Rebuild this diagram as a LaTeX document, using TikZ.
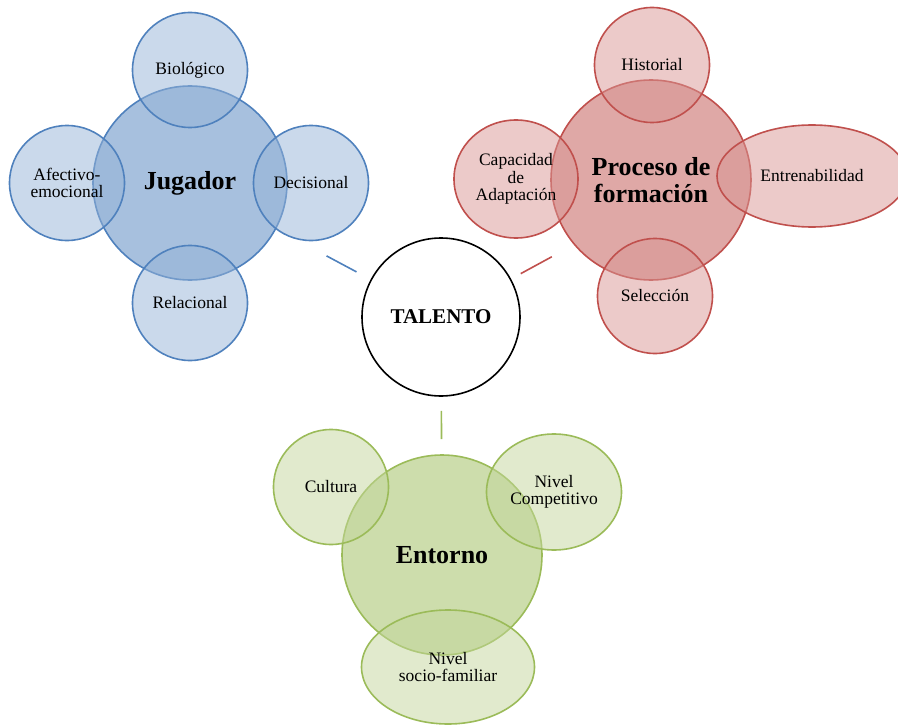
\documentclass[tikz,border=0pt]{standalone}
\usepackage{fontspec}
\setmainfont{Liberation Serif}
\usetikzlibrary{shapes.geometric}
\usepackage{xcolor}
\definecolor{jugblue}{HTML}{4F81BD}
\definecolor{procred}{HTML}{C0504D}
\definecolor{entgreen}{HTML}{9BBB59}

\begin{document}
\begin{tikzpicture}[x=1pt,y=-1pt,
        every node/.style={inner sep=0pt, align=center, font=\fontsize{17.5}{17.5}\selectfont},
        sat/.style={circle, draw=#1, line width=1.6pt, fill=#1!60!white, fill opacity=0.5, text opacity=1, minimum size=115pt},
        hub/.style={circle, draw=#1, line width=1.6pt, fill=#1!50!white, minimum size=194pt,
            font=\fontsize{26}{27}\selectfont\bfseries},
        link/.style={line width=1.6pt, draw=#1}]
        \useasboundingbox (0,0) rectangle (898,725);

        \coordinate (J) at (190,183);
        \coordinate (P) at (651,180);
        \coordinate (E) at (442,555);
        \coordinate (T) at (441,317);

        % Jugador
        \node[hub=jugblue] (jugador) at (J) {Jugador};
        \node[sat=jugblue] (biologico) at (190,70) {Biológico};
        \node[sat=jugblue] (afectivo) at (67,183) {Afectivo-\\emocional};
        \node[sat=jugblue] (decisional) at (311,183) {Decisional};
        \node[sat=jugblue] (relacional) at (190,303) {Relacional};

        % Proceso de formacion
        \node[hub=procred, minimum size=200pt] (proceso) at (P) {Proceso de\\formación};
        \node[sat=procred] (historial) at (652,65) {Historial};
        \node[sat=procred, ellipse, minimum width=124pt, minimum height=118pt] (capacidad) at (516,179) {Capacidad\\de\\Adaptación};
        \node[sat=procred, ellipse, minimum width=190pt, minimum height=102pt] (entrenab) at (812,176) {Entrenabilidad};
        \node[sat=procred] (seleccion) at (655,296) {Selección};

        % Entorno
        \node[hub=entgreen, minimum size=200pt] (entorno) at (E) {Entorno};
        \node[sat=entgreen] (cultura) at (331,487) {Cultura};
        \node[sat=entgreen, ellipse, minimum width=135pt, minimum height=116pt] (competitivo) at (554,492) {Nivel\\Competitivo};
        \node[sat=entgreen, ellipse, minimum width=173pt, minimum height=114pt] (sociofam) at (448,667) {Nivel\\socio-familiar};

        \node[circle, draw, line width=1.6pt, minimum size=158pt, font=\fontsize{21}{21}\selectfont\bfseries] (talento) at (T) {TALENTO};

        \draw[link=jugblue, shorten <=16pt, shorten >=57pt] (talento) -- (jugador);
        \draw[link=procred, shorten <=11pt, shorten >=25pt] (talento) -- (proceso.220);
        \draw[link=entgreen, shorten <=14pt, shorten >=15pt] (talento) -- (entorno);
    \end{tikzpicture}
\end{document}
